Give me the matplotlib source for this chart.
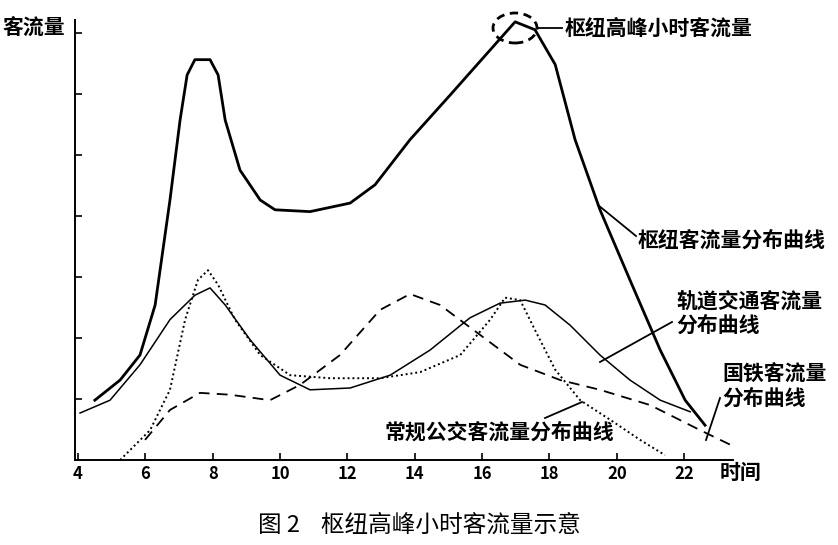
import matplotlib
matplotlib.use("Agg")
import matplotlib.pyplot as plt
from matplotlib.patches import Ellipse

plt.rcParams['font.family'] = ['Noto Sans CJK SC', 'DejaVu Sans']

hub_x = [4.5,5.25,5.84,6.29,6.73,7.03,7.24,7.47,7.92,8.16,8.37,8.81,9.41,9.85,10.89,12.08,12.82,13.86,15.05,16.24,16.98,17.57,18.17,18.76,19.5,20.39,21.29,22.03,22.62]
hub_y = [0.98,1.31,1.72,2.54,4.26,5.57,6.31,6.56,6.56,6.31,5.57,4.75,4.26,4.10,4.07,4.21,4.51,5.25,5.98,6.72,7.18,7.05,6.48,5.25,4.10,2.95,1.80,0.98,0.57]
rail_x = [4.06,4.95,5.84,6.73,7.47,7.92,8.37,9.11,10.0,10.89,12.08,13.27,14.45,15.64,16.53,17.28,17.87,18.61,19.5,20.39,21.29,22.18]
rail_y = [0.77,0.98,1.56,2.30,2.70,2.82,2.54,1.97,1.39,1.15,1.18,1.39,1.80,2.33,2.57,2.62,2.54,2.21,1.72,1.31,0.98,0.79]
bus_x = [5.25,6.14,6.73,7.18,7.56,7.86,8.16,8.66,9.41,10.3,11.48,12.97,14.16,15.35,16.24,16.68,17.13,17.57,18.17,18.91,19.8,20.69,21.43]
bus_y = [0,0.49,1.15,2.30,2.95,3.11,2.87,2.30,1.72,1.39,1.34,1.34,1.44,1.72,2.30,2.66,2.62,2.13,1.48,0.98,0.66,0.33,0.08]
nat_x = [5.99,6.73,7.62,8.51,9.7,10.59,11.78,12.97,13.86,14.75,15.94,17.13,18.32,19.5,20.99,22.47,23.37]
nat_y = [0.33,0.82,1.10,1.07,0.98,1.23,1.72,2.46,2.72,2.54,2.05,1.56,1.31,1.15,0.90,0.49,0.25]
xticks = [4,6,8,10,12,14,16,18,20,22]

W, H = 838, 545
fig = plt.figure(figsize=(W/100, H/100), dpi=100)
ax = fig.add_axes([75/W, 1-460/H, (733-75)/W, (460-20)/H])
ax.plot(hub_x, hub_y, color='black', lw=2.0)
ax.plot(rail_x, rail_y, color='black', lw=1.1)
ax.plot(bus_x, bus_y, color='black', lw=1.4, ls=(0, (1, 1.5)))
ax.plot(nat_x, nat_y, color='black', lw=1.3, ls=(0, (6, 4)))
ax.set_xlim(3.91, 23.45)
ax.set_ylim(0, 7.21)
ax.set_xticks(xticks)
ax.set_xticklabels([str(t) for t in xticks], fontsize=12, fontweight='bold')
ax.set_yticks(range(1, 8))
ax.set_yticklabels([])
ax.tick_params(direction='in', length=5, width=1.2)
for s in ['top', 'right']:
    ax.spines[s].set_visible(False)
for s in ['left', 'bottom']:
    ax.spines[s].set_linewidth(1.4)

def fx(px): return px/W
def fy(py): return 1-py/H
tf = fig.transFigure
kw = dict(transform=tf, fontsize=15, fontweight='bold', va='center')
fig.text(fx(2), fy(28), '客流量', **kw)
fig.text(fx(720), fy(472), '时间', **kw)
fig.text(fx(565), fy(28), '枢纽高峰小时客流量', **kw)
fig.text(fx(638), fy(240), '枢纽客流量分布曲线', **kw)
fig.text(fx(676), fy(313), '轨道交通客流量\n分布曲线', linespacing=1.2, **kw)
fig.text(fx(722), fy(386), '国铁客流量\n分布曲线', linespacing=1.2, **kw)
fig.text(fx(385), fy(432), '常规公交客流量分布曲线', **kw)
fig.text(0.5, fy(525), '图 2    枢纽高峰小时客流量示意', transform=tf, fontsize=17, ha='center', va='center')
lines = [((538, 28), (562, 28)), ((598, 205), (636, 236)), ((600, 362), (672, 322)),
         ((706, 440), (720, 398)), ((545, 418), (582, 402))]
for (a, b) in lines:
    fig.add_artist(plt.Line2D([fx(a[0]), fx(b[0])], [fy(a[1]), fy(b[1])], transform=tf, color='black', lw=1.3))
fig.add_artist(Ellipse((fx(515), fy(28)), 44/W, 30/H, transform=tf, fill=False, ls=(0, (3, 2)), lw=2, color='black'))
fig.savefig('out.png', dpi=100)
